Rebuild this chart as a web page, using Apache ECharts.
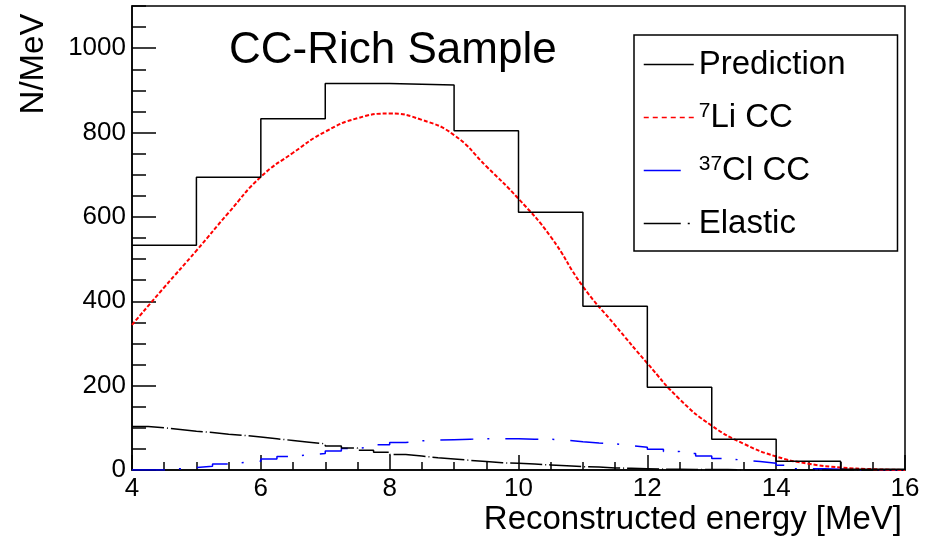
<!DOCTYPE html>
<html>
<head>
<meta charset="utf-8">
<script src="https://cdn.jsdelivr.net/npm/echarts@6/dist/echarts.min.js"></script>
<style>
html,body{margin:0;padding:0;background:#fff;}
#chart{width:934px;height:541px;}
</style>
</head>
<body>
<div id="chart"></div>
<script>
// ---- data ----
const predEdges = [4, 5, 6, 7, 8, 9, 10, 11, 12, 13, 14, 15, 16];
const predCounts = [533, 694, 833, 916, 913, 804, 611, 388, 196, 73, 21, 2];

const liEnergy = [4, 4.5, 5, 5.5, 6, 6.5, 7, 7.5, 8, 8.5, 9, 9.5, 10, 10.5, 11, 11.5, 12, 12.5, 13, 13.5, 14, 14.5, 15, 15.5, 16];
const liValues = [344, 433, 520, 610, 695, 752, 802, 834, 845, 830, 794, 720, 643, 553, 435, 343, 253, 168, 105, 62, 32, 15, 6, 2, 0];

const fineEdges = [4, 4.25, 4.5, 4.75, 5, 5.25, 5.5, 5.75, 6, 6.25, 6.5, 6.75, 7, 7.25, 7.5, 7.75,
  8, 8.25, 8.5, 8.75, 9, 9.25, 9.5, 9.75, 10, 10.25, 10.5, 10.75, 11, 11.25, 11.5, 11.75,
  12, 12.25, 12.5, 12.75, 13, 13.25, 13.5, 13.75, 14, 14.25, 14.5, 14.75, 15, 15.25, 15.5, 15.75, 16];
const clValues = [0, 0, 3, 6, 9, 14, 18, 21, 26, 32, 36, 39, 45, 51, 55, 60,
  65, 69, 71, 72, 73, 74, 74, 74, 73, 73, 71, 67, 64, 62, 58, 54,
  49, 44, 39, 33, 27, 23, 20, 16, 11, 3, 3, 2, 1, 0, 0, 0];
const elasticValues = [103, 100, 96, 92, 89, 85, 82, 78, 74, 70, 66, 62, 57, 52, 47, 42,
  37, 33, 29, 26, 23, 20, 17, 16, 14, 12, 10, 8, 7, 5, 4, 3,
  2, 2, 1, 1, 1, 0, 0, 0, 0, 0, 0, 0, 0, 0, 0, 0];

const xTicks = [4, 6, 8, 10, 12, 14, 16];
const yTicks = [0, 200, 400, 600, 800, 1000];

const seriesNames = ['Prediction', '7Li CC', '37Cl CC', 'Elastic'];
const titleText = 'CC-Rich Sample';
const xTitle = 'Reconstructed energy [MeV]';
const yTitle = 'N/MeV';

// histogram outline: points at bin edges, last bin repeated at the upper edge
function histPoints(edges, counts) {
  const pts = counts.map((c, i) => [edges[i], c]);
  pts.push([edges[edges.length - 1], counts[counts.length - 1]]);
  return pts;
}
function curvePoints(xs, ys) { return xs.map((x, i) => [x, ys[i]]); }

const FONT = 'Liberation Sans, Arial, Helvetica, sans-serif';

const chart = echarts.init(document.getElementById('chart'), null, {renderer: 'canvas'});
chart.setOption({
  animation: false,
  backgroundColor: '#ffffff',
  textStyle: {fontFamily: FONT, color: '#000'},
  title: {
    text: titleText,
    left: 229, top: 29,
    padding: 0,
    textStyle: {fontSize: 44, fontWeight: 'normal', color: '#000', fontFamily: FONT}
  },
  grid: {
    left: 132, right: 29, top: 6, bottom: 71,
    show: true, borderColor: '#000', borderWidth: 1.5, backgroundColor: 'transparent'
  },
  legend: {
    orient: 'vertical',
    left: 634, top: 35,
    padding: [13, 52, 11, 9],
    itemGap: 20,
    itemWidth: 50, itemHeight: 14,
    borderColor: '#000', borderWidth: 1.5,
    selectedMode: false,
    itemStyle: {opacity: 0},
    data: [
      {name: seriesNames[0], lineStyle: {type: 'solid', width: 1.5}},
      {name: seriesNames[1], lineStyle: {type: [5, 4], width: 1.5}},
      {name: seriesNames[2], lineStyle: {type: [37, 100], width: 1.5}},
      {name: seriesNames[3], lineStyle: {type: [37, 7, 2, 100], width: 1.5}}
    ],
    textStyle: {
      fontSize: 33, color: '#000', fontFamily: FONT,
      rich: {
        sup: {fontSize: 21, verticalAlign: 'top', color: '#000', fontFamily: FONT, lineHeight: 30},
        n: {fontSize: 33, color: '#000', fontFamily: FONT, lineHeight: 33}
      }
    },
    formatter: function (name) {
      if (name === '7Li CC') return '{sup|7}{n|Li CC}';
      if (name === '37Cl CC') return '{sup|37}{n|Cl CC}';
      return '{n|' + name + '}';
    }
  },
  xAxis: {
    type: 'value', min: 4, max: 16, interval: 2,
    axisLine: {show: true, onZero: false, lineStyle: {color: '#000', width: 1.5}},
    axisTick: {show: true, inside: true, length: 15, lineStyle: {color: '#000', width: 1.5}},
    minorTick: {show: true, splitNumber: 4, length: 8, lineStyle: {color: '#000', width: 1.5}},
    splitLine: {show: false},
    axisLabel: {
      fontSize: 26, color: '#000', margin: 6, fontFamily: FONT,
      formatter: v => (xTicks.indexOf(v) >= 0 ? String(v) : '')
    },
    name: xTitle,
    nameLocation: 'end',
    nameGap: -3,
    nameTextStyle: {fontSize: 33, color: '#000', fontFamily: FONT, align: 'right', verticalAlign: 'top', padding: [33, 0, 0, 0]}
  },
  yAxis: [{
    type: 'value', min: 0, max: 1100, interval: 200,
    axisLine: {show: true, onZero: false, lineStyle: {color: '#000', width: 1.5}},
    axisTick: {show: true, inside: true, length: 24, lineStyle: {color: '#000', width: 1.5}},
    splitLine: {show: false},
    axisLabel: {
      fontSize: 26, color: '#000', margin: 6, fontFamily: FONT, showMaxLabel: false,
      formatter: v => (yTicks.indexOf(v) >= 0 ? String(v) : '')
    }
  }, {
    type: 'value', min: 0, max: 1100, interval: 50, position: 'left',
    axisLine: {show: false},
    axisTick: {show: true, inside: true, length: 14, lineStyle: {color: '#000', width: 1.5}},
    splitLine: {show: false},
    axisLabel: {show: false}
  }],
  graphic: [{
    type: 'text',
    x: 34, y: 64,
    rotation: Math.PI / 2,
    style: {text: yTitle, font: '33px ' + FONT, fill: '#000', textAlign: 'center', textVerticalAlign: 'middle'}
  }],
  series: [{
    name: seriesNames[0], type: 'line', step: 'end', symbol: 'none',
    data: histPoints(predEdges, predCounts),
    color: '#000',
    lineStyle: {color: '#000', width: 1.5},
    z: 5
  }, {
    name: seriesNames[1], type: 'line', smooth: true, symbol: 'none',
    data: curvePoints(liEnergy, liValues),
    color: '#ff0000',
    lineStyle: {color: '#ff0000', width: 2, type: [4, 2]},
    z: 4
  }, {
    name: seriesNames[2], type: 'line', step: 'end', symbol: 'none',
    data: histPoints(fineEdges, clValues),
    color: '#0000ff',
    lineStyle: {color: '#0000ff', width: 1.5, type: [33, 14, 2, 16]},
    z: 3
  }, {
    name: seriesNames[3], type: 'line', step: 'end', symbol: 'none',
    data: histPoints(fineEdges, elasticValues),
    color: '#000',
    lineStyle: {color: '#000', width: 1.5, type: [32, 3, 1, 3]},
    z: 3
  }]
});
</script>
</body>
</html>
